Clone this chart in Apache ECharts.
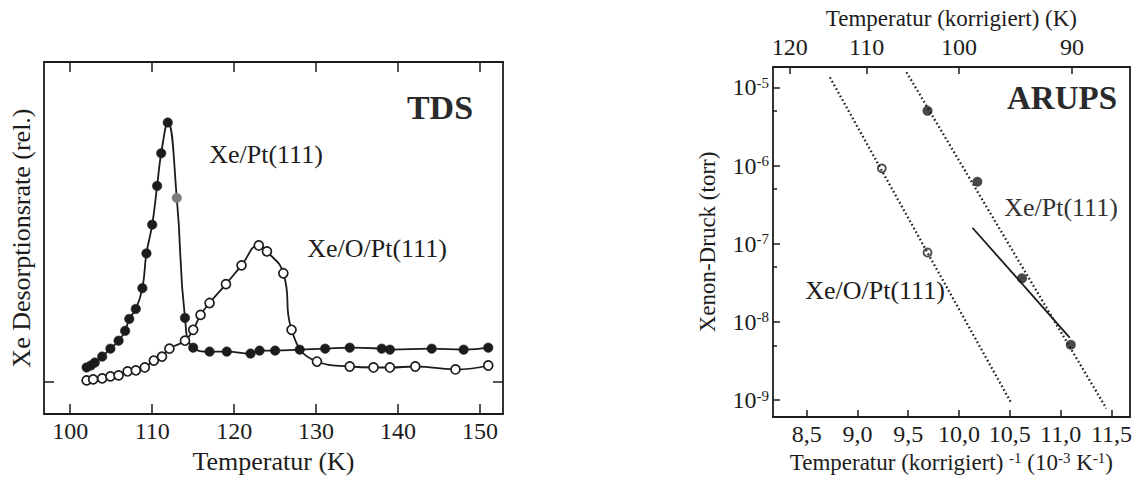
<!DOCTYPE html>
<html>
<head>
<meta charset="utf-8">
<script src="https://cdn.jsdelivr.net/npm/echarts@6/dist/echarts.min.js"></script>
<style>
html,body{margin:0;padding:0;background:#fff;}
#c{width:1135px;height:479px;}
</style>
</head>
<body>
<div id="c"></div>
<script>
// ---------- TDS (left) ----------
const tdsXTicks = [100, 110, 120, 130, 140, 150];
const xePtT = [102.0, 102.5, 103.0, 103.9, 104.9, 105.9, 106.7, 107.2, 108.0, 108.8, 109.3, 110.0, 110.6, 111.1, 111.9, 113.0, 114.0, 115.0, 117.0, 119.1, 122.0, 123.1, 125.0, 128.0, 131.1, 134.1, 138.0, 139.0, 144.1, 148.0, 151.0];
const xePtRate = [1.4, 1.6, 1.9, 2.5, 3.3, 4.1, 5.1, 6.3, 7.3, 9.4, 12.9, 15.8, 19.7, 23.0, 26.1, 18.5, 6.4, 3.4, 3.0, 3.0, 2.8, 3.1, 3.1, 3.2, 3.3, 3.4, 3.3, 3.2, 3.3, 3.2, 3.4];
const xeOPtT = [102.0, 102.8, 103.9, 104.9, 105.9, 107.0, 108.0, 109.1, 110.2, 111.2, 112.1, 114.0, 115.0, 115.9, 117.0, 119.0, 120.9, 123.0, 124.0, 126.0, 127.0, 130.1, 134.1, 137.0, 139.0, 142.1, 147.0, 151.0];
const xeOPtRate = [0.1, 0.2, 0.3, 0.5, 0.6, 1.0, 1.1, 1.4, 2.1, 2.5, 3.3, 4.1, 5.2, 6.7, 7.9, 9.8, 11.7, 13.7, 13.1, 10.9, 5.2, 2.0, 1.5, 1.4, 1.4, 1.5, 1.2, 1.6];
const greyPointIndex = 15;

// ---------- ARUPS (right) ----------
const invTTicks = [8.5, 9.0, 9.5, 10.0, 10.5, 11.0, 11.5];
const topKTicks = [120, 110, 100, 90];
const pressureDecades = [1e-9, 1e-8, 1e-7, 1e-6, 1e-5];
const pressureMinor = [5e-9, 5e-8, 5e-7, 5e-6];
const arXePtInvT = [9.69, 10.18, 10.62, 11.10];
const arXePtP = [5.0e-6, 6.2e-7, 3.6e-8, 5.1e-9];
const arXeOPtInvT = [9.24, 9.69];
const arXeOPtP = [9.2e-7, 7.7e-8];
const fitXeOPtInvT = [8.729, 10.516];
const fitXeOPtP = [1.34e-5, 9.06e-10];
const fitXePtInvT = [9.483, 11.45];
const fitXePtP = [1.56e-5, 7.8e-10];
const fitSolidInvT = [10.132, 11.089];
const fitSolidP = [1.6e-7, 6.3e-9];

const FONT = '"Liberation Serif", "DejaVu Serif", serif';
const INK = '#1c1c1c';
const zip = (a, b) => a.map((v, i) => [v, b[i]]);
const zipLog = (a, b) => a.map((v, i) => [v, Math.log10(b[i])]);

const axisLine = {show: true, onZero: false, lineStyle: {color: INK, width: 1.8}};
const tick = (vals, len) => ({show: true, inside: true, length: len, customValues: vals, lineStyle: {color: INK, width: 1.5}});
const noLabel = {show: false};
const lbl = (extra) => Object.assign({color: INK, fontFamily: FONT, fontSize: 24}, extra);
const nameStyle = {color: INK, fontFamily: FONT, fontSize: 26};
const nameStyleR = {color: INK, fontFamily: FONT, fontSize: 23};

const option = {
  animation: false,
  backgroundColor: '#ffffff',
  grid: [
    {left: 44, right: 632, top: 62, bottom: 62},
    {left: 773, right: 5, top: 67, bottom: 62}
  ],
  xAxis: [
    {gridIndex: 0, type: 'value', position: 'bottom', min: 96.8, max: 152.8,
      axisLine, axisTick: tick(tdsXTicks, 10), splitLine: {show: false},
      axisLabel: lbl({customValues: tdsXTicks, margin: 5}),
      name: 'Temperatur (K)', nameLocation: 'middle', nameGap: 31, nameTextStyle: nameStyle},
    {gridIndex: 0, type: 'value', position: 'top', min: 96.8, max: 152.8,
      axisLine, axisTick: tick(tdsXTicks, 10), splitLine: {show: false}, axisLabel: noLabel},
    {gridIndex: 1, type: 'value', position: 'bottom', min: 8.169, max: 11.68,
      axisLine, axisTick: tick(invTTicks, 7), splitLine: {show: false},
      axisLabel: lbl({customValues: invTTicks, margin: 5, formatter: v => v.toFixed(1).replace('.', ',')}),
      name: '{a|Temperatur (korrigiert) }{s|-1}{a| (10}{s|-3}{a| K}{s|-1}{a|)}',
      nameLocation: 'middle', nameGap: 32,
      nameTextStyle: {color: INK, fontFamily: FONT, fontSize: 23,
        rich: {a: {fontFamily: FONT, fontSize: 23, color: INK},
               s: {fontFamily: FONT, fontSize: 15, color: INK, verticalAlign: 'top'}}}},
    {gridIndex: 1, type: 'value', position: 'top', min: 8.169, max: 11.68,
      axisLine, axisTick: tick(topKTicks.map(t => 1000 / t), 7), splitLine: {show: false},
      axisLabel: lbl({customValues: topKTicks.map(t => 1000 / t), margin: 8, formatter: v => String(Math.round(1000 / v))}),
      name: 'Temperatur (korrigiert) (K)', nameLocation: 'middle', nameGap: 35, nameTextStyle: nameStyleR}
  ],
  yAxis: [
    {gridIndex: 0, type: 'value', position: 'left', min: -3.3, max: 32.2,
      axisLine, axisTick: tick([0], 10), splitLine: {show: false}, axisLabel: noLabel,
      name: 'Xe Desorptionsrate (rel.)', nameLocation: 'middle', nameGap: 10, nameRotate: 90, nameTextStyle: nameStyle},
    {gridIndex: 0, type: 'value', position: 'right', min: -3.3, max: 32.2,
      axisLine, axisTick: tick([0], 10), splitLine: {show: false}, axisLabel: noLabel},
    {gridIndex: 1, type: 'value', position: 'left', min: -9.217, max: -4.74,
      axisLine, axisTick: tick(pressureDecades.map(Math.log10), 7), splitLine: {show: false},
      axisLabel: {customValues: pressureDecades.map(Math.log10), margin: 4,
        formatter: v => '{b|10}{s|' + Math.round(v) + '}',
        rich: {b: {fontFamily: FONT, fontSize: 24, color: INK},
               s: {fontFamily: FONT, fontSize: 15, color: INK, verticalAlign: 'top'}}},
      name: 'Xenon-Druck (torr)', nameLocation: 'middle', nameGap: 54, nameRotate: 90, nameTextStyle: nameStyleR},
    {gridIndex: 1, type: 'value', position: 'left', min: -9.217, max: -4.74,
      axisLine: {show: false}, axisTick: tick(pressureMinor.map(Math.log10), 4), splitLine: {show: false}, axisLabel: noLabel},
    {gridIndex: 1, type: 'value', position: 'right', min: -9.217, max: -4.74,
      axisLine, axisTick: {show: false}, splitLine: {show: false}, axisLabel: noLabel}
  ],
  series: [
    {type: 'line', name: 'Xe/O/Pt(111) TDS', xAxisIndex: 0, yAxisIndex: 0,
      data: zip(xeOPtT, xeOPtRate), smooth: 0.5,
      symbol: 'circle', symbolSize: 9,
      itemStyle: {color: '#ffffff', borderColor: INK, borderWidth: 1.7},
      lineStyle: {color: INK, width: 1.8}},
    {type: 'line', name: 'Xe/Pt(111) TDS', xAxisIndex: 0, yAxisIndex: 0,
      data: zip(xePtT, xePtRate).map((p, i) => i === greyPointIndex ? {value: p, itemStyle: {color: '#7d7d7d', borderColor: '#7d7d7d'}} : p),
      smooth: 0.5,
      symbol: 'circle', symbolSize: 9.5,
      itemStyle: {color: INK, borderColor: INK, borderWidth: 0.5},
      lineStyle: {color: INK, width: 1.8}},
    {type: 'line', xAxisIndex: 2, yAxisIndex: 2, data: zipLog(fitXeOPtInvT, fitXeOPtP),
      symbol: 'none', lineStyle: {color: INK, width: 2.3, type: [1.6, 2.6]}},
    {type: 'line', xAxisIndex: 2, yAxisIndex: 2, data: zipLog(fitXePtInvT, fitXePtP),
      symbol: 'none', lineStyle: {color: INK, width: 2.3, type: [1.6, 2.6]}},
    {type: 'line', xAxisIndex: 2, yAxisIndex: 2, data: zipLog(fitSolidInvT, fitSolidP),
      symbol: 'none', lineStyle: {color: INK, width: 1.8}},
    {type: 'scatter', xAxisIndex: 2, yAxisIndex: 2, data: zipLog(arXePtInvT, arXePtP),
      symbol: 'circle', symbolSize: 10, itemStyle: {color: INK}},
    {type: 'scatter', xAxisIndex: 2, yAxisIndex: 2, data: zipLog(arXeOPtInvT, arXeOPtP),
      symbol: 'circle', symbolSize: 8, itemStyle: {color: '#ffffff', borderColor: INK, borderWidth: 1.8}}
  ],
  graphic: [
    {type: 'text', x: 440, y: 107, style: {text: 'TDS', font: 'bold 34px ' + FONT, fill: '#2a2a2a', align: 'center', verticalAlign: 'middle'}},
    {type: 'text', x: 266, y: 154, style: {text: 'Xe/Pt(111)', font: '26px ' + FONT, fill: INK, align: 'center', verticalAlign: 'middle'}},
    {type: 'text', x: 377, y: 248, style: {text: 'Xe/O/Pt(111)', font: '26px ' + FONT, fill: INK, align: 'center', verticalAlign: 'middle'}},
    {type: 'text', x: 1062, y: 98, style: {text: 'ARUPS', font: 'bold 33px ' + FONT, fill: '#2a2a2a', align: 'center', verticalAlign: 'middle'}},
    {type: 'text', x: 1061, y: 207, style: {text: 'Xe/Pt(111)', font: '26px ' + FONT, fill: '#333', align: 'center', verticalAlign: 'middle'}},
    {type: 'text', x: 875, y: 290, style: {text: 'Xe/O/Pt(111)', font: '26px ' + FONT, fill: INK, align: 'center', verticalAlign: 'middle'}}
  ]
};

const chart = echarts.init(document.getElementById('c'), null, {renderer: 'svg'});
chart.setOption(option);
</script>
</body>
</html>
